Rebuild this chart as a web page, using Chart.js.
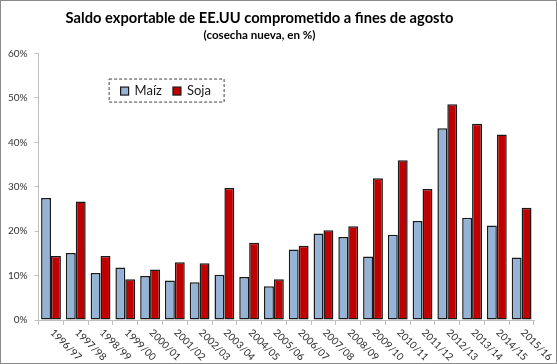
<!DOCTYPE html>
<html>
<head>
<meta charset="utf-8">
<script src="https://cdn.jsdelivr.net/npm/chart.js@4/dist/chart.umd.min.js"></script>
<style>
  html, body { margin: 0; padding: 0; background: #fff; }
  #wrap { width: 557px; height: 364px; box-sizing: border-box; border: 1px solid #8a8a8a; }
</style>
</head>
<body>
<div id="wrap"><canvas id="myChart" width="555" height="362"></canvas></div>
<script>
var campaigns = ["1996/97","1997/98","1998/99","1999/00","2000/01","2001/02","2002/03","2003/04","2004/05","2005/06",
                 "2006/07","2007/08","2008/09","2009/10","2010/11","2011/12","2012/13","2013/14","2014/15","2015/16"];
var maizValues = [27.5, 15.1, 10.6, 11.8, 9.9, 8.9, 8.5, 10.2, 9.7, 7.6, 15.9, 19.5, 18.7, 14.3, 19.2, 22.3, 43.2, 23.0, 21.3, 14.1];
var sojaValues = [14.4, 26.7, 14.4, 9.2, 11.4, 13.0, 12.8, 29.7, 17.4, 9.2, 16.7, 20.2, 21.1, 31.9, 36.0, 29.5, 48.6, 44.2, 41.8, 25.3];
var yTicks = [0, 10, 20, 30, 40, 50, 60];

var maizColor = "#95B3D7";
var sojaColor = "#C00000";
var fontName = "Lato, 'Open Sans', sans-serif";

// the excel title sits a bit left of the canvas centre
var shiftTitles = {
    id: "shiftTitles",
    afterLayout: function(chart) {
        chart.boxes.forEach(function(b) {
            if (b.options && b.options.text !== undefined && b.position === "top") {
                b.left -= 8;
                b.right -= 8;
            }
        });
    }
};

// rotated category labels, going down to the right like the excel original
var xLabels = {
    id: "xLabels",
    afterDraw: function(chart) {
        var ctx = chart.ctx;
        var xs = chart.scales.x;
        var bottom = chart.chartArea.bottom;
        ctx.save();
        ctx.font = "10px " + fontName;
        ctx.fillStyle = "#262626";
        ctx.textAlign = "left";
        ctx.textBaseline = "middle";
        campaigns.forEach(function(lab, i) {
            ctx.save();
            ctx.translate(xs.getPixelForValue(i) + 1, bottom + 11);
            ctx.rotate(Math.PI / 4);
            ctx.fillText(lab, 0, 0);
            ctx.restore();
        });
        ctx.restore();
    }
};

// legend in a dashed box inside the plot
var boxLegend = {
    id: "boxLegend",
    afterDraw: function(chart) {
        var ctx = chart.ctx;
        var a = chart.chartArea;
        var x = a.left + 70, y = a.top + 25, w = 115, h = 23;
        ctx.save();
        ctx.setLineDash([3, 2]);
        ctx.strokeStyle = "#404040";
        ctx.lineWidth = 1;
        ctx.strokeRect(x + 0.5, y + 0.5, w, h);
        ctx.setLineDash([]);
        ctx.font = "13px " + fontName;
        ctx.textBaseline = "middle";
        ctx.textAlign = "left";
        var cy = y + h / 2 + 1;
        var px = x + 12;
        chart.data.datasets.forEach(function(ds) {
            ctx.fillStyle = ds.backgroundColor;
            ctx.fillRect(px, cy - 4, 8, 8);
            ctx.strokeStyle = "#1a1a1a";
            ctx.lineWidth = 1.2;
            ctx.strokeRect(px, cy - 4, 8, 8);
            ctx.fillStyle = "#1a1a1a";
            ctx.fillText(ds.label, px + 14, cy);
            px += 14 + ctx.measureText(ds.label).width + 11;
        });
        ctx.restore();
    }
};

new Chart("myChart", {
    type: "bar",
    data: {
        labels: campaigns,
        datasets: [
            {
                label: "Maíz",
                data: maizValues,
                backgroundColor: maizColor,
                borderColor: "#1a1a1a",
                borderWidth: 1.5,
                borderSkipped: false
            },
            {
                label: "Soja",
                data: sojaValues,
                backgroundColor: sojaColor,
                borderColor: "#1a1a1a",
                borderWidth: 1.5,
                borderSkipped: false
            }
        ]
    },
    options: {
        responsive: false,
        animation: false,
        layout: { padding: { left: 0, right: 22, top: 0, bottom: 38 } },
        datasets: { bar: { categoryPercentage: 0.8, barPercentage: 1.0 } },
        plugins: {
            legend: { display: false },
            tooltip: { enabled: false },
            title: {
                display: true,
                text: "Saldo exportable de EE.UU comprometido a fines de agosto",
                color: "#000",
                font: { family: fontName, size: 14.7, weight: "bold" },
                padding: { top: 8, bottom: 2 }
            },
            subtitle: {
                display: true,
                text: "(cosecha nueva, en %)",
                color: "#000",
                font: { family: fontName, size: 11.6, weight: "bold" },
                padding: { bottom: 11 }
            }
        },
        scales: {
            x: {
                grid: { display: true, drawOnChartArea: false, offset: true, tickLength: 5, color: "#bfbfbf" },
                border: { color: "#bfbfbf" },
                ticks: { display: false }
            },
            y: {
                min: 0,
                max: 60,
                afterBuildTicks: function(axis) {
                    axis.ticks = yTicks.map(function(v) { return { value: v }; });
                },
                grid: { display: true, drawOnChartArea: false, tickLength: 4, color: "#bfbfbf" },
                border: { color: "#bfbfbf" },
                ticks: {
                    color: "#333",
                    padding: 7,
                    font: { family: fontName, size: 10 },
                    callback: function(v) { return v + "%"; }
                }
            }
        }
    },
    plugins: [shiftTitles, xLabels, boxLegend]
});
</script>
</body>
</html>
